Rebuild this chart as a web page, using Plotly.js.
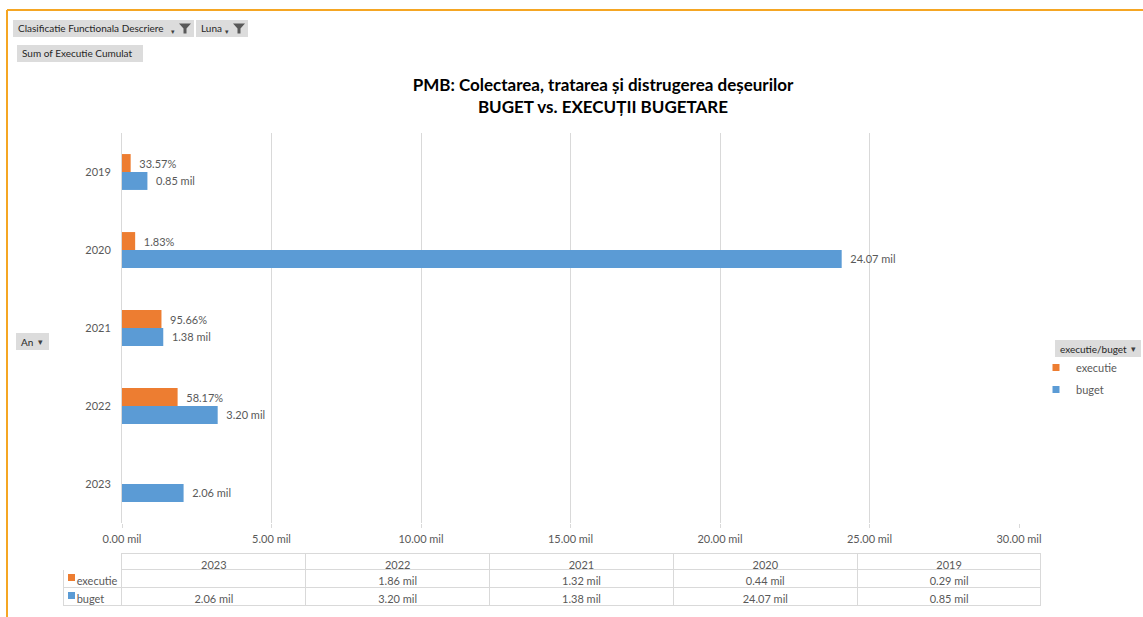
<!DOCTYPE html>
<html>
<head>
<meta charset="utf-8">
<script src="https://cdn.plot.ly/plotly-3.0.1.min.js"></script>
<style>html,body{margin:0;padding:0;background:#fff;}#chart{width:1143px;height:617px;}</style>
</head>
<body>
<div id="chart"></div>
<script>
// ---- data ----
var years = ['2019', '2020', '2021', '2022', '2023'];
var executie = [0.29, 0.44, 1.32, 1.86, null];
var buget = [0.85, 24.07, 1.38, 3.20, 2.06];
var execPct = ['33.57%', '1.83%', '95.66%', '58.17%', ''];
var tableYears = ['2023', '2022', '2021', '2020', '2019'];
var seriesNames = ['executie', 'buget'];
var xTickVals = [0, 5, 10, 15, 20, 25, 30];
var xTickText = ['0.00 mil', '5.00 mil', '10.00 mil', '15.00 mil', '20.00 mil', '25.00 mil', '30.00 mil'];

var ORANGE = '#ED7D31', BLUE = '#5B9BD5', GRID = '#d9d9d9', TXT = '#595959';
var FONT = 'Lato, "Open Sans", sans-serif';
var W = 1143, H = 617;
var NB = '\u00a0';
function px(x) { return x / W; }
function py(y) { return 1 - y / H; }
function fmt(v) { return (v === null || v === undefined) ? '' : v.toFixed(2) + NB + 'mil'; }

var bugetText = buget.map(function (v) { return '  ' + fmt(v); });
var execText = execPct.map(function (t) { return t ? '  ' + t : ''; });

var traceExec = {
  type: 'bar', orientation: 'h', name: seriesNames[0], showlegend: false,
  y: years, x: executie, text: execText,
  textposition: 'outside', cliponaxis: false,
  textfont: {family: FONT, size: 11, color: TXT},
  marker: {color: ORANGE}, hoverinfo: 'x+y+name'
};
var traceBuget = {
  type: 'bar', orientation: 'h', name: seriesNames[1], showlegend: false,
  y: years, x: buget, text: bugetText,
  textposition: 'outside', cliponaxis: false,
  textfont: {family: FONT, size: 11, color: TXT},
  marker: {color: BLUE}, hoverinfo: 'x+y+name'
};
// legend entries with small square keys (no drawn data)
var legExec = {type: 'scatter', mode: 'markers', name: seriesNames[0], x: [null], y: [null],
  marker: {symbol: 'square', size: 7, color: ORANGE}, legendgroup: 'a', hoverinfo: 'skip'};
var legBuget = {type: 'scatter', mode: 'markers', name: seriesNames[1], x: [null], y: [null],
  marker: {symbol: 'square', size: 7, color: BLUE}, legendgroup: 'b', hoverinfo: 'skip'};

// table built from the same arrays, columns in table order
function byYear(arr, yr) { return arr[years.indexOf(yr)]; }
var tableCols = [seriesNames.map(function (n) { return NB + NB + n; })];
tableYears.forEach(function (yr) {
  tableCols.push([fmt(byYear(executie, yr)), fmt(byYear(buget, yr))]);
});
var headerVals = [''].concat(tableYears);
var lineCols = ['#ffffff'].concat(tableYears.map(function () { return GRID; }));

var traceTable = {
  type: 'table',
  domain: {x: [px(63), px(1041)], y: [0, py(553)]},
  columnwidth: [59, 184, 184, 184, 184, 184],
  header: {
    values: headerVals, height: 16,
    align: 'center', line: {color: lineCols, width: 1},
    fill: {color: '#ffffff'},
    font: {family: FONT, size: 11, color: TXT}
  },
  cells: {
    values: tableCols, height: 18,
    align: ['left', 'center', 'center', 'center', 'center', 'center'],
    line: {color: GRID, width: 1},
    fill: {color: '#ffffff'},
    font: {family: FONT, size: 11, color: TXT}
  }
};

// decorative pivot buttons, selection frame, table row keys
var shapes = [
  {type: 'line', xref: 'paper', yref: 'paper', x0: px(7), x1: px(1143), y0: py(10), y1: py(10), line: {color: '#F5A623', width: 2}},
  {type: 'line', xref: 'paper', yref: 'paper', x0: px(7), x1: px(7), y0: py(10), y1: py(617), line: {color: '#F5A623', width: 2}},
  {type: 'rect', xref: 'paper', yref: 'paper', x0: px(68), x1: px(75), y0: py(581), y1: py(574), fillcolor: ORANGE, line: {width: 0}, layer: 'above'},
  {type: 'rect', xref: 'paper', yref: 'paper', x0: px(68), x1: px(75), y0: py(599), y1: py(592), fillcolor: BLUE, line: {width: 0}, layer: 'above'}
];
var annotations = [];
function button(x0, y0, x1, y1, label) {
  shapes.push({type: 'rect', xref: 'paper', yref: 'paper', x0: px(x0), x1: px(x1), y0: py(y1), y1: py(y0),
    fillcolor: '#dcdcdc', line: {width: 0}, layer: 'above'});
  annotations.push({xref: 'paper', yref: 'paper', x: px(x0 + 3), y: py((y0 + y1) / 2), xanchor: 'left', yanchor: 'middle',
    text: label, showarrow: false, font: {family: FONT, size: 10, color: '#262626'}});
}
function funnel(cx, cy) {
  shapes.push({type: 'path', xref: 'paper', yref: 'paper', layer: 'above',
    path: 'M' + px(cx - 6) + ',' + py(cy - 5) + ' L' + px(cx + 6) + ',' + py(cy - 5) + ' L' + px(cx + 1.5) + ',' + py(cy) +
      ' L' + px(cx + 1.5) + ',' + py(cy + 5) + ' L' + px(cx - 1.5) + ',' + py(cy + 5) + ' L' + px(cx - 1.5) + ',' + py(cy) + ' Z',
    fillcolor: '#595959', line: {width: 0}});
  annotations.push({xref: 'paper', yref: 'paper', x: px(cx - 8), y: py(cy + 3), xanchor: 'right', yanchor: 'middle',
    text: '▾', showarrow: false, font: {family: 'DejaVu Sans', size: 7, color: '#404040'}});
}
function dropdown(x, y) {
  annotations.push({xref: 'paper', yref: 'paper', x: px(x), y: py(y), xanchor: 'center', yanchor: 'middle',
    text: '▾', showarrow: false, font: {family: 'DejaVu Sans', size: 9, color: '#404040'}});
}
button(13, 20, 194, 37, 'Clasificatie Functionala Descriere');
funnel(185, 28.5);
button(196, 20, 248, 37, 'Luna');
funnel(239, 28.5);
button(17, 45, 143, 62, 'Sum of Executie Cumulat');
button(16, 333, 49, 350, 'An');
dropdown(40, 341.5);
button(1055, 340, 1141, 357, 'executie/buget');
dropdown(1133, 348.5);

var layout = {
  width: W, height: H,
  margin: {l: 0, r: 0, t: 0, b: 0},
  paper_bgcolor: '#ffffff', plot_bgcolor: '#ffffff',
  font: {family: FONT, color: TXT},
  title: {
    text: '<b>PMB: Colectarea, tratarea și distrugerea deșeurilor</b><br><b>BUGET vs. EXECUȚII BUGETARE</b>',
    xref: 'container', yref: 'container', x: px(603), y: py(91), xanchor: 'center', yanchor: 'middle',
    font: {family: FONT, size: 17, color: '#000000'}
  },
  barmode: 'group', bargap: 0.54, bargroupgap: 0,
  xaxis: {
    domain: [px(122), px(1019)], range: [0, 30],
    tickvals: xTickVals, ticktext: xTickText,
    showgrid: true, gridcolor: GRID, gridwidth: 1,
    zeroline: false, showline: false,
    ticks: 'outside', ticklen: 4, tickcolor: GRID,
    ticklabelstandoff: 2,
    tickfont: {family: FONT, size: 11, color: TXT},
    fixedrange: true
  },
  yaxis: {
    domain: [py(523), py(133)], type: 'category',
    categoryorder: 'array', categoryarray: years, autorange: 'reversed',
    showline: true, linecolor: GRID, linewidth: 1,
    showgrid: false, zeroline: false, ticks: '',
    ticklabelstandoff: 8,
    tickfont: {family: FONT, size: 11, color: TXT},
    fixedrange: true
  },
  showlegend: true,
  legend: {
    x: px(1036), y: py(353), xanchor: 'left', yanchor: 'top',
    traceorder: 'grouped', tracegroupgap: 3,
    font: {family: FONT, size: 11, color: TXT},
    itemwidth: 30, bgcolor: 'rgba(0,0,0,0)'
  },
  shapes: shapes,
  annotations: annotations
};

Plotly.newPlot('chart', [traceExec, traceBuget, legExec, legBuget, traceTable], layout, {displayModeBar: false, staticPlot: true});
</script>
</body>
</html>
